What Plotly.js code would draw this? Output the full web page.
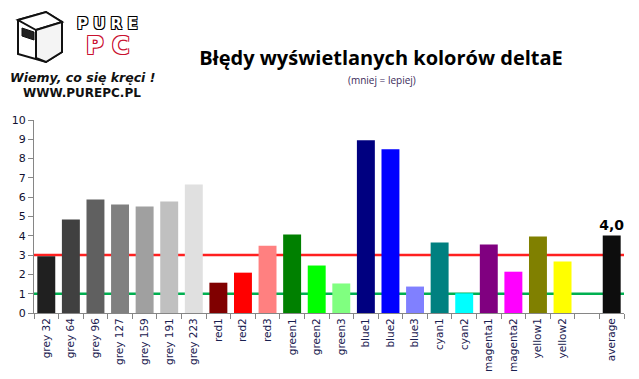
<!DOCTYPE html>
<html><head><meta charset="utf-8">
<script src="https://cdn.plot.ly/plotly-3.0.1.min.js"></script>
<style>body{margin:0;background:#fff}#chart{width:639px;height:379px}</style>
</head><body><div id="chart"></div>
<script>
const categories = ['grey 32','grey 64','grey 96','grey 127','grey 159','grey 191','grey 223','red1','red2','red3','green1','green2','green3','blue1','blue2','blue3','cyan1','cyan2','magenta1','magenta2','yellow1','yellow2',' ','average'];
const values = [2.94,4.84,5.88,5.62,5.52,5.78,6.66,1.57,2.09,3.49,4.07,2.46,1.53,8.95,8.48,1.37,3.65,1.02,3.55,2.14,3.96,2.67,null,4.01];
const barColors = ['#202020','#404040','#606060','#808080','#a0a0a0','#c0c0c0','#e0e0e0','#800000','#ff0000','#ff8080','#008000','#00ff00','#80ff80','#000080','#0000ff','#8080ff','#008080','#00ffff','#800080','#ff00ff','#808000','#ffff00','#ffffff','#0d0d0d'];
const yTicks = [0,1,2,3,4,5,6,7,8,9,10];
const redLimit = 3;
const greenLimit = 1;

const labels = categories.map((c,i)=> c==='average' ? values[i].toFixed(1).replace('.',',') : '');

// pixel -> paper helpers (plot area x:34..624, y:313..120)
const X0=34,X1=624,Y0=313,Y1=120;
const px = X => (X-X0)/(X1-X0);
const py = Y => (Y0-Y)/(Y0-Y1);

const trace = {
  type:'bar', x:categories, y:values,
  marker:{color:barColors},
  text:labels, textposition:'outside', cliponaxis:false, constraintext:'none',
  textfont:{family:'DejaVu Sans', size:14, color:'#000', weight:'bold'},
  hoverinfo:'x+y'
};

function logoPath(pts){return 'M'+pts.map(p=>px(p[0])+','+py(p[1])).join(' L')+' Z';}

const layout = {
  width:639, height:379,
  margin:{l:X0, r:639-X1, t:Y1, b:379-Y0},
  paper_bgcolor:'#fff', plot_bgcolor:'#fff',
  showlegend:false,
  bargap:0.27,
  title:{text:'Błędy wyświetlanych kolorów deltaE', x:px(381), xref:'paper', xanchor:'center', y:1-58/379, yanchor:'middle',
         font:{family:'Open Sans', size:20, color:'#000', weight:'bold'}},
  xaxis:{type:'category', tickangle:-90, tickson:'boundaries', ticks:'outside', ticklen:5, tickcolor:'#868686',
         showline:true, linecolor:'#868686', linewidth:1, showgrid:false,
         tickfont:{family:'DejaVu Sans', size:10.5, color:'#1a2050'}, fixedrange:true},
  yaxis:{range:[0,10], tickvals:yTicks, ticks:'outside', ticklen:5, tickcolor:'#868686', showline:true,
         linecolor:'#868686', linewidth:1, showgrid:false, zeroline:false,
         tickfont:{family:'DejaVu Sans', size:11, color:'#101030'}, fixedrange:true},
  shapes:[
    {type:'line', xref:'paper', x0:0, x1:1, yref:'y', y0:redLimit, y1:redLimit, line:{color:'#ff2020', width:2.5}, layer:'below'},
    {type:'line', xref:'paper', x0:0, x1:1, yref:'y', y0:greenLimit, y1:greenLimit, line:{color:'#00b050', width:2.5}, layer:'below'},
    // logo box
    {type:'path', xref:'paper', yref:'paper', path:logoPath([[18,20],[46,12],[62,22],[62,52],[46,62],[18,54]]), fillcolor:'#fff', line:{color:'#111', width:2}},
    {type:'path', xref:'paper', yref:'paper', path:logoPath([[18,20],[46,12],[62,22],[36,30]]), fillcolor:'#fff', line:{color:'#111', width:2}},
    {type:'path', xref:'paper', yref:'paper', path:logoPath([[36,30],[62,22],[62,52],[46,62],[36,58]]), fillcolor:'#f4f4f4', line:{color:'#111', width:2}},
    {type:'path', xref:'paper', yref:'paper', path:logoPath([[22,28],[34,32],[34,40],[22,36]]), fillcolor:'#222', line:{color:'#111', width:1}}
  ],
  annotations:[
    {text:'(mniej = lepiej)', xref:'paper', yref:'paper', x:px(382), y:py(80), xanchor:'center', yanchor:'middle', showarrow:false,
     font:{family:'Open Sans', size:10, color:'#3a2a5a'}},
    {text:'P U R E', xref:'paper', yref:'paper', x:px(107), y:py(24), xanchor:'center', yanchor:'middle', showarrow:false,
     font:{family:'DejaVu Sans', size:15, color:'#fff', weight:'bold', shadow:'1px 1px 0 #000, -1px -1px 0 #000, 1px -1px 0 #000, -1px 1px 0 #000'}},
    {text:'P C', xref:'paper', yref:'paper', x:px(108), y:py(46), xanchor:'center', yanchor:'middle', showarrow:false,
     font:{family:'DejaVu Sans', size:24, color:'#fff', weight:'bold', shadow:'1px 1px 0 #c8102e, -1px -1px 0 #c8102e, 1px -1px 0 #c8102e, -1px 1px 0 #c8102e'}},
    {text:'Wiemy, co się kręci !', xref:'paper', yref:'paper', x:px(82), y:py(77), xanchor:'center', yanchor:'middle', showarrow:false,
     font:{family:'DejaVu Sans', size:12.5, color:'#111', weight:'bold', style:'italic'}},
    {text:'WWW.PUREPC.PL', xref:'paper', yref:'paper', x:px(82), y:py(93), xanchor:'center', yanchor:'middle', showarrow:false,
     font:{family:'DejaVu Sans', size:12, color:'#111', weight:'bold'}}
  ]
};
Plotly.newPlot('chart',[trace],layout,{displayModeBar:false, staticPlot:true});
</script></body></html>
